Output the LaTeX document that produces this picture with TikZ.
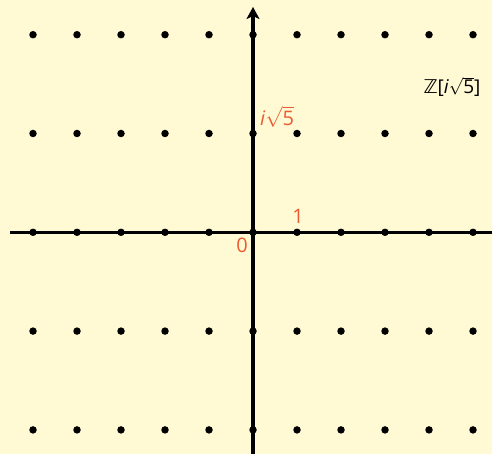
\documentclass[tikz,border=0pt]{standalone}
\usepackage{fontspec}
\setmainfont{Open Sans}
\newfontfamily\symfont{DejaVu Sans}
\usetikzlibrary{arrows.meta}
\definecolor{bg}{RGB}{255,250,212}
\definecolor{lab}{RGB}{236,90,50}
\begin{document}
\begin{tikzpicture}[x=1pt,y=-1pt,
  axis/.style={line width=3.2pt,-{Stealth[length=12pt,width=13pt,inset=3pt]}},
  latdot/.style={circle,fill=black,inner sep=0pt,minimum size=7.5pt},
  lbl/.style={text=lab,font=\fontsize{20}{20}\selectfont,inner sep=0pt}]
\fill[bg] (0,0) rectangle (492,454);
\useasboundingbox (0,0) rectangle (492,454);
\clip (0,0) rectangle (492,454);
\coordinate (xl) at (10,232.3);
\coordinate (xr) at (505,232.3);
\coordinate (yb) at (253,460);
\coordinate (yt) at (253,7);
\draw[axis] (xl) -- (xr);
\draw[axis] (yb) -- (yt);
\foreach \i in {-5,...,5}{
  \foreach \j [count=\r] in {-2,...,2}{
    \node[latdot] (d\r\i) at ({253+44*\i},{232.3+98.8*\j}) {};
  }
}
\node[lbl] (isq) at (277,117) {\textit{i}$\sqrt{\mbox{5}}$};
\node[lbl] (zero) at (242,245) {0};
\node[lbl] (one) at (298,216) {1};
\node[inner sep=0pt,font=\fontsize{19}{19}\selectfont] (ring) at (452,87) {{\symfont ℤ}[\textit{i}$\sqrt{\mbox{5}}$]};
\end{tikzpicture}
\end{document}
